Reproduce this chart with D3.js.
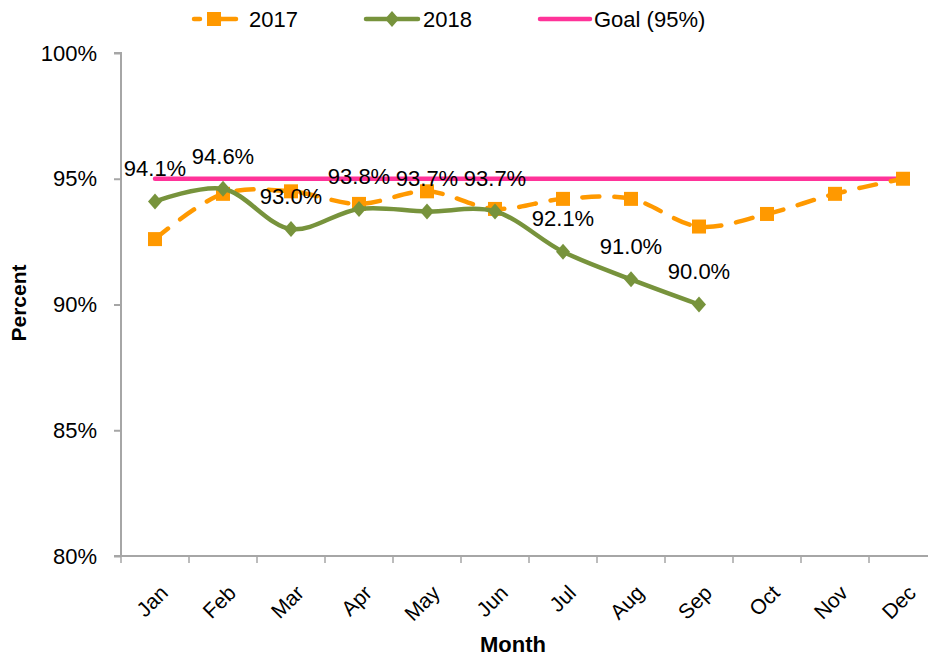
<!DOCTYPE html>
<html>
<head>
<meta charset="utf-8">
<script src="https://cdn.jsdelivr.net/npm/d3@7"></script>
<style>
  body { margin: 0; background: #fff; }
  text { font-family: "Liberation Sans", Arial, sans-serif; fill: #000; }
</style>
</head>
<body>
<div id="chart"></div>
<script>
// ── Monthly percent vs goal, 2017 / 2018 ──
const months = ["Jan","Feb","Mar","Apr","May","Jun","Jul","Aug","Sep","Oct","Nov","Dec"];
const values2017 = [92.6, 94.4, 94.5, 94.0, 94.5, 93.8, 94.2, 94.2, 93.1, 93.6, 94.4, 95.0];
const values2018 = [94.1, 94.6, 93.0, 93.8, 93.7, 93.7, 92.1, 91.0, 90.0];
const goal = 95;
const yTicks = [80, 85, 90, 95, 100];

const width = 928, height = 658;
const margin = { top: 53, right: -9, bottom: 102, left: 121 };
const innerW = width - margin.left - margin.right;
const innerH = height - margin.top - margin.bottom;

const svg = d3.select("#chart").append("svg")
    .attr("width", width).attr("height", height);

const g = svg.append("g").attr("transform", `translate(${margin.left},${margin.top})`);

const x = d3.scaleBand().domain(months).range([0, innerW]);
const y = d3.scaleLinear().domain([80, 100]).range([innerH, 0]);
const cx = m => x(m) + x.bandwidth() / 2;

const axisColor = "#a6a6a6";

// Y axis
const yAxis = g.append("g")
    .call(d3.axisLeft(y).tickValues(yTicks).tickSize(7).tickPadding(17).tickFormat(d => d + "%"));
yAxis.selectAll("line, path").attr("stroke", axisColor).attr("stroke-width", 2);
yAxis.select(".domain").attr("d", `M-7,0H0V${innerH}H-7`);
yAxis.selectAll("text").style("font-size", "22px").attr("fill", "#000");

// X axis: ticks on category boundaries
const xAxis = g.append("g").attr("transform", `translate(0,${innerH})`);
xAxis.append("line").attr("x1", 0).attr("x2", innerW)
    .attr("stroke", axisColor).attr("stroke-width", 2);
xAxis.selectAll("line.tk").data(d3.range(months.length + 1)).join("line").attr("class", "tk")
    .attr("x1", i => i * x.step()).attr("x2", i => i * x.step())
    .attr("y1", 0).attr("y2", 7)
    .attr("stroke", axisColor).attr("stroke-width", 1.5);
xAxis.selectAll("text.lbl").data(months).join("text").attr("class", "lbl")
    .attr("transform", d => `translate(${cx(d) + 9},${33}) rotate(-45)`)
    .attr("text-anchor", "end").attr("dy", "0.35em")
    .style("font-size", "21px")
    .text(d => d);

// Axis titles
svg.append("text").attr("x", margin.left + 392).attr("y", 652)
    .attr("text-anchor", "middle").style("font-size", "22px").style("font-weight", "bold")
    .text("Month");
svg.append("text").attr("transform", "rotate(-90)")
    .attr("x", -(margin.top + 250)).attr("y", 26)
    .attr("text-anchor", "middle").style("font-size", "21px").style("font-weight", "bold")
    .text("Percent");

const orange = "#ff9900", green = "#77933c", pink = "#ff3399";

// Goal line
g.append("line")
    .attr("x1", cx("Jan")).attr("x2", cx("Dec"))
    .attr("y1", y(goal)).attr("y2", y(goal))
    .attr("stroke", pink).attr("stroke-width", 4.5).attr("stroke-linecap", "round");

const line = d3.line().x(d => cx(d.m)).y(d => y(d.v)).curve(d3.curveCatmullRom.alpha(0.5));

const d17 = values2017.map((v, i) => ({ m: months[i], v }));
const d18 = values2018.map((v, i) => ({ m: months[i], v }));

// 2017
g.append("path").datum(d17).attr("d", line)
    .attr("fill", "none").attr("stroke", orange).attr("stroke-width", 4.5)
    .attr("stroke-dasharray", "17,15").attr("stroke-linecap", "round");
g.selectAll("rect.m17").data(d17).join("rect").attr("class", "m17")
    .attr("x", d => cx(d.m) - 7).attr("y", d => y(d.v) - 7)
    .attr("width", 14).attr("height", 14).attr("fill", orange);

// 2018
g.append("path").datum(d18).attr("d", line)
    .attr("fill", "none").attr("stroke", green).attr("stroke-width", 4.5);
g.selectAll("path.m18").data(d18).join("path").attr("class", "m18")
    .attr("transform", d => `translate(${cx(d.m)},${y(d.v)})`)
    .attr("d", "M0,-8L7,0L0,8L-7,0Z").attr("fill", green);

g.selectAll("text.v18").data(d18).join("text").attr("class", "v18")
    .attr("x", d => cx(d.m)).attr("y", d => y(d.v) - 33)
    .attr("dy", "0.35em").attr("text-anchor", "middle")
    .style("font-size", "22px")
    .text(d => d.v.toFixed(1) + "%");

// Legend
const legend = svg.append("g").attr("transform", "translate(0,19)");
legend.append("line").attr("x1", 194).attr("x2", 236)
    .attr("stroke", orange).attr("stroke-width", 4.5)
    .attr("stroke-dasharray", "6,15").attr("stroke-linecap", "round");
legend.append("line").attr("x1", 218).attr("x2", 236)
    .attr("stroke", orange).attr("stroke-width", 4.5).attr("stroke-linecap", "round");
legend.append("rect").attr("x", 207).attr("y", -7).attr("width", 14).attr("height", 14).attr("fill", orange);
legend.append("text").attr("x", 249).attr("dy", "0.35em").style("font-size", "22px").text("2017");

legend.append("line").attr("x1", 366).attr("x2", 418)
    .attr("stroke", green).attr("stroke-width", 4.5).attr("stroke-linecap", "round");
legend.append("path").attr("transform", "translate(392,0)")
    .attr("d", "M0,-8L7,0L0,8L-7,0Z").attr("fill", green);
legend.append("text").attr("x", 423).attr("dy", "0.35em").style("font-size", "22px").text("2018");

legend.append("line").attr("x1", 540).attr("x2", 590)
    .attr("stroke", pink).attr("stroke-width", 4.5).attr("stroke-linecap", "round");
legend.append("text").attr("x", 594).attr("dy", "0.35em").style("font-size", "22px").text("Goal (95%)");
</script>
</body>
</html>
